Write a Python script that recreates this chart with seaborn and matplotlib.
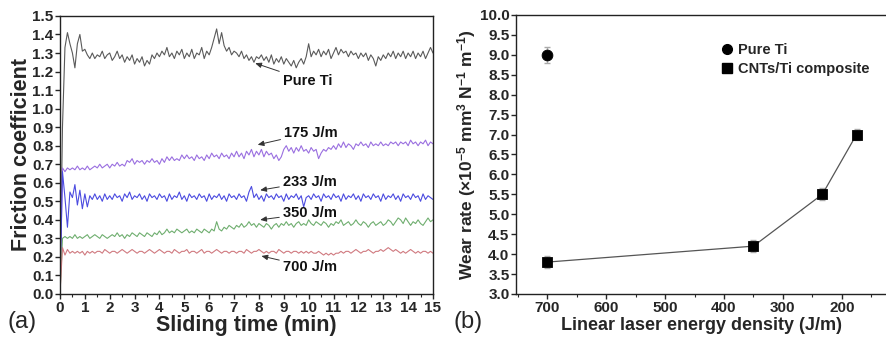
import numpy as np
import pandas as pd
import matplotlib
matplotlib.use("Agg")
import matplotlib.pyplot as plt
import seaborn as sns
from matplotlib.lines import Line2D
from matplotlib.ticker import MultipleLocator

# ---------------- data: panel (a) friction coefficient vs sliding time ----------------
time_min = np.round(np.arange(0, 15.001, 0.1), 1)

pure_ti = [
    0.00, 0.90, 1.33, 1.41, 1.35, 1.30, 1.22, 1.35, 1.40, 1.31,
    1.32, 1.29, 1.27, 1.30, 1.27, 1.29, 1.28, 1.31, 1.27, 1.29,
    1.30, 1.26, 1.28, 1.31, 1.27, 1.29, 1.25, 1.28, 1.26, 1.29,
    1.24, 1.27, 1.25, 1.28, 1.23, 1.26, 1.24, 1.29, 1.27, 1.30,
    1.28, 1.31, 1.29, 1.33, 1.28, 1.30, 1.27, 1.31, 1.29, 1.32,
    1.27, 1.30, 1.28, 1.32, 1.27, 1.30, 1.29, 1.33, 1.27, 1.31,
    1.29, 1.33, 1.38, 1.43, 1.35, 1.41, 1.34, 1.31, 1.33, 1.29,
    1.31, 1.30, 1.28, 1.31, 1.27, 1.29, 1.26, 1.28, 1.25, 1.28,
    1.27, 1.29, 1.26, 1.28, 1.25, 1.29, 1.24, 1.27, 1.25, 1.28,
    1.24, 1.27, 1.25, 1.23, 1.26, 1.22, 1.25, 1.27, 1.24, 1.28,
    1.35, 1.28, 1.31, 1.29, 1.32, 1.28, 1.31, 1.29, 1.32, 1.27,
    1.30, 1.33, 1.29, 1.32, 1.30, 1.31, 1.28, 1.31, 1.29, 1.30,
    1.27, 1.30, 1.28, 1.30, 1.26, 1.29, 1.27, 1.23, 1.28, 1.26,
    1.29, 1.27, 1.30, 1.28, 1.31, 1.27, 1.30, 1.28, 1.31, 1.27,
    1.30, 1.28, 1.31, 1.27, 1.30, 1.28, 1.31, 1.27, 1.30, 1.33,
    1.30,
]

e175 = [
    0.00, 0.68, 0.66, 0.68, 0.67, 0.68, 0.67, 0.69, 0.67, 0.68,
    0.67, 0.69, 0.67, 0.68, 0.69, 0.68, 0.70, 0.68, 0.69, 0.70,
    0.68, 0.70, 0.69, 0.71, 0.69, 0.70, 0.69, 0.72, 0.71, 0.73,
    0.70, 0.72, 0.71, 0.72, 0.70, 0.72, 0.71, 0.73, 0.71, 0.72,
    0.70, 0.73, 0.71, 0.74, 0.72, 0.74, 0.72, 0.73, 0.72, 0.75,
    0.73, 0.75, 0.73, 0.74, 0.72, 0.75, 0.73, 0.74, 0.72, 0.75,
    0.73, 0.76, 0.74, 0.75, 0.73, 0.76, 0.74, 0.75, 0.73, 0.76,
    0.74, 0.77, 0.74, 0.76, 0.73, 0.77, 0.75, 0.78, 0.74, 0.77,
    0.75, 0.78, 0.74, 0.77, 0.75, 0.76, 0.73, 0.75, 0.72, 0.74,
    0.78, 0.80, 0.77, 0.79, 0.76, 0.79, 0.77, 0.80, 0.77, 0.78,
    0.76, 0.79, 0.77, 0.78, 0.73, 0.76, 0.78, 0.77, 0.79, 0.78,
    0.80, 0.78, 0.81, 0.79, 0.82, 0.79, 0.81, 0.80, 0.78, 0.81,
    0.80, 0.82, 0.80, 0.81, 0.79, 0.82, 0.80, 0.81, 0.80, 0.82,
    0.80, 0.81, 0.80, 0.82, 0.81, 0.82, 0.80, 0.82, 0.81, 0.82,
    0.80, 0.83, 0.81, 0.82, 0.80, 0.82, 0.81, 0.83, 0.80, 0.82,
    0.81,
]

e233 = [
    0.00, 0.66, 0.52, 0.36, 0.55, 0.52, 0.59, 0.48, 0.56, 0.46,
    0.54, 0.47, 0.53, 0.51, 0.54, 0.51, 0.53, 0.50, 0.54, 0.51,
    0.53, 0.51, 0.54, 0.52, 0.53, 0.50, 0.54, 0.52, 0.55, 0.51,
    0.53, 0.52, 0.54, 0.51, 0.53, 0.50, 0.54, 0.52, 0.53, 0.51,
    0.54, 0.52, 0.53, 0.50, 0.54, 0.51, 0.53, 0.52, 0.55, 0.51,
    0.53, 0.50, 0.54, 0.52, 0.53, 0.51, 0.54, 0.52, 0.53, 0.50,
    0.54, 0.51, 0.53, 0.52, 0.54, 0.51, 0.53, 0.50, 0.54, 0.52,
    0.53, 0.51, 0.54, 0.52, 0.53, 0.50, 0.55, 0.58, 0.52, 0.54,
    0.51, 0.53, 0.50, 0.54, 0.52, 0.53, 0.51, 0.54, 0.52, 0.53,
    0.50, 0.54, 0.51, 0.53, 0.52, 0.54, 0.51, 0.53, 0.47, 0.52,
    0.53, 0.51, 0.54, 0.52, 0.53, 0.50, 0.54, 0.52, 0.53, 0.51,
    0.54, 0.52, 0.53, 0.50, 0.54, 0.51, 0.53, 0.52, 0.54, 0.51,
    0.53, 0.50, 0.54, 0.52, 0.53, 0.51, 0.54, 0.52, 0.53, 0.50,
    0.54, 0.51, 0.53, 0.52, 0.54, 0.51, 0.53, 0.50, 0.54, 0.52,
    0.53, 0.51, 0.54, 0.52, 0.53, 0.50, 0.54, 0.51, 0.53, 0.52,
    0.51,
]

e350 = [
    0.00, 0.30, 0.31, 0.30, 0.31, 0.30, 0.32, 0.30, 0.31, 0.30,
    0.31, 0.32, 0.30, 0.31, 0.32, 0.31, 0.30, 0.32, 0.31, 0.30,
    0.31, 0.32, 0.31, 0.33, 0.31, 0.32, 0.30, 0.32, 0.31, 0.33,
    0.32, 0.31, 0.33, 0.32, 0.31, 0.33, 0.32, 0.31, 0.33, 0.32,
    0.34, 0.32, 0.33, 0.35, 0.33, 0.34, 0.33, 0.35, 0.34, 0.33,
    0.34, 0.35, 0.33, 0.34, 0.33, 0.35, 0.34, 0.33, 0.35, 0.34,
    0.33, 0.35, 0.34, 0.39, 0.35, 0.34, 0.36, 0.35, 0.37, 0.36,
    0.35, 0.37, 0.36, 0.38, 0.36, 0.37, 0.39, 0.37, 0.38, 0.36,
    0.38, 0.37, 0.36, 0.38, 0.37, 0.35, 0.37, 0.38, 0.36, 0.38,
    0.37, 0.39, 0.37, 0.38, 0.36, 0.38, 0.39, 0.37, 0.38, 0.37,
    0.40, 0.38, 0.37, 0.39, 0.38, 0.37, 0.39, 0.38, 0.36, 0.38,
    0.37, 0.39, 0.38, 0.40, 0.37, 0.38, 0.39, 0.37, 0.38, 0.40,
    0.38, 0.37, 0.39, 0.38, 0.36, 0.38, 0.39, 0.37, 0.38, 0.39,
    0.37, 0.38, 0.40, 0.39, 0.37, 0.39, 0.41, 0.40, 0.38, 0.41,
    0.39, 0.37, 0.39, 0.38, 0.40, 0.38, 0.37, 0.39, 0.41, 0.39,
    0.40,
]

e700 = [
    0.00, 0.25, 0.21, 0.24, 0.22, 0.23, 0.22, 0.23, 0.22, 0.23,
    0.21, 0.23, 0.22, 0.23, 0.22, 0.23, 0.23, 0.22, 0.24, 0.23,
    0.22, 0.23, 0.23, 0.22, 0.23, 0.24, 0.23, 0.22, 0.23, 0.24,
    0.23, 0.22, 0.23, 0.23, 0.22, 0.23, 0.24, 0.23, 0.22, 0.23,
    0.24, 0.23, 0.22, 0.23, 0.23, 0.22, 0.24, 0.23, 0.22, 0.23,
    0.23, 0.24, 0.22, 0.23, 0.23, 0.22, 0.23, 0.24, 0.22, 0.23,
    0.23, 0.22, 0.23, 0.24, 0.23, 0.22, 0.23, 0.23, 0.22, 0.23,
    0.23, 0.22, 0.23, 0.23, 0.22, 0.24, 0.23, 0.22, 0.23, 0.23,
    0.24, 0.23, 0.22, 0.23, 0.22, 0.23, 0.23, 0.22, 0.24, 0.23,
    0.22, 0.23, 0.23, 0.22, 0.23, 0.23, 0.22, 0.23, 0.22, 0.23,
    0.22, 0.23, 0.22, 0.22, 0.23, 0.22, 0.21, 0.22, 0.21, 0.22,
    0.21, 0.22, 0.22, 0.23, 0.22, 0.23, 0.23, 0.22, 0.23, 0.24,
    0.23, 0.22, 0.23, 0.23, 0.24, 0.23, 0.22, 0.23, 0.23, 0.24,
    0.23, 0.24, 0.25, 0.24, 0.23, 0.24, 0.23, 0.22, 0.23, 0.22,
    0.23, 0.24, 0.23, 0.22, 0.23, 0.22, 0.23, 0.23, 0.22, 0.23,
    0.22,
]

series_names = ["Pure Ti", "175 J/m", "233 J/m", "350 J/m", "700 J/m"]
series_values = [pure_ti, e175, e233, e350, e700]
series_colors = ["#5a5a5a", "#9a6fe0", "#4b4be0", "#6fae6f", "#d07a80"]

# annotation text position (time, mu) and arrow tip (time, mu)
label_pos = [(8.95, 1.15), (9.0, 0.87), (8.95, 0.605), (8.95, 0.435), (8.95, 0.145)]
arrow_tip = [(7.85, 1.245), (7.95, 0.805), (8.05, 0.56), (8.05, 0.40), (8.1, 0.205)]

x_ticks_a = list(range(0, 16))
y_ticks_a = [round(0.1 * i, 1) for i in range(16)]

# ---------------- data: panel (b) wear rate ----------------
pure_energy = [700]
pure_wear = [9.0]
pure_err = [0.2]
comp_energy = [700, 350, 233, 175]
comp_wear = [3.8, 4.2, 5.5, 7.0]
comp_err = [0.15, 0.15, 0.15, 0.15]

x_ticks_b = [700, 600, 500, 400, 300, 200]
y_ticks_b = [round(3.0 + 0.5 * i, 1) for i in range(15)]

# ---------------- styling ----------------
sns.set_theme(style="ticks")
plt.rcParams["font.family"] = ["Liberation Sans", "DejaVu Sans"]
plt.rcParams["font.weight"] = "bold"
plt.rcParams["axes.labelweight"] = "bold"
plt.rcParams["mathtext.fontset"] = "custom"
plt.rcParams["mathtext.rm"] = "Liberation Sans:bold"
plt.rcParams["mathtext.it"] = "Liberation Sans:bold"
plt.rcParams["mathtext.bf"] = "Liberation Sans:bold"
plt.rcParams["mathtext.default"] = "rm"

fig = plt.figure(figsize=(8.86, 3.42), dpi=100)
ax1 = fig.add_axes([0.0677, 0.1404, 0.421, 0.813])
ax2 = fig.add_axes([0.5824, 0.1404, 0.4176, 0.816])

TICK_FS = 11

# ---------------- panel (a) ----------------
rows = []
for name, vals in zip(series_names, series_values):
    for t, v in zip(time_min, vals):
        rows.append((name, t, v))
df = pd.DataFrame(rows, columns=["series", "time", "mu"])
sns.lineplot(data=df, x="time", y="mu", hue="series", hue_order=series_names,
             palette=dict(zip(series_names, series_colors)), linewidth=0.8,
             legend=False, ax=ax1, estimator=None, sort=False)

for name, (tx, ty), (ax_, ay) in zip(series_names, label_pos, arrow_tip):
    ax1.annotate(name, xy=(ax_, ay), xytext=(tx, ty), fontsize=10.5, fontweight="bold",
                 va="center", ha="left", color="#111111",
                 arrowprops=dict(arrowstyle="-|>,head_length=0.35,head_width=0.15",
                                 color="#333333", lw=0.7, shrinkA=0, shrinkB=0))

ax1.set_xlim(0, 15)
ax1.set_ylim(0, 1.5)
ax1.set_xticks(x_ticks_a)
ax1.set_xticklabels([str(v) for v in x_ticks_a], fontweight="bold", fontsize=TICK_FS)
ax1.xaxis.set_minor_locator(MultipleLocator(0.5))
ax1.set_yticks(y_ticks_a)
ax1.set_yticklabels([f"{v:.1f}" for v in y_ticks_a], fontweight="bold", fontsize=TICK_FS)
for s in ax1.spines.values():
    s.set_visible(True)
    s.set_linewidth(1.0)
    s.set_color("#222222")
ax1.tick_params(axis="both", which="major", length=3.5, width=1.0, pad=1.2)
ax1.tick_params(axis="both", which="minor", length=2, width=0.8)
ax1.set_xlabel("Sliding time (min)", fontsize=15.5, fontweight="bold", labelpad=0.5)
ax1.set_ylabel("Friction coefficient", fontsize=15.5, fontweight="bold", labelpad=0)
fig.text(0.008, 0.058, "(a)", fontsize=17, fontweight="normal", ha="left", va="center")

# ---------------- panel (b) ----------------
ax2.errorbar(comp_energy, comp_wear, yerr=comp_err, fmt="none", ecolor="#aaaaaa",
             elinewidth=1.0, capsize=2.5, zorder=2)
ax2.errorbar(pure_energy, pure_wear, yerr=pure_err, fmt="none", ecolor="#aaaaaa",
             elinewidth=1.0, capsize=2.5, zorder=2)
sns.lineplot(x=comp_energy, y=comp_wear, color="#555555", linewidth=0.9,
             ax=ax2, sort=False, zorder=3)
sns.scatterplot(x=comp_energy, y=comp_wear, marker="s", s=55, color="black",
                edgecolor="black", ax=ax2, zorder=4)
sns.scatterplot(x=pure_energy, y=pure_wear, marker="o", s=60, color="black",
                edgecolor="black", ax=ax2, zorder=4)

ax2.set_xlim(753, 125)
ax2.set_ylim(3.0, 10.0)
ax2.set_xticks(x_ticks_b)
ax2.set_xticklabels([str(v) for v in x_ticks_b], fontweight="bold", fontsize=TICK_FS)
ax2.xaxis.set_minor_locator(MultipleLocator(50))
ax2.set_yticks(y_ticks_b)
ax2.set_yticklabels([f"{v:.1f}" for v in y_ticks_b], fontweight="bold", fontsize=TICK_FS)
for name, s in ax2.spines.items():
    s.set_linewidth(1.0)
    s.set_color("#222222")
    s.set_visible(name != "right")
ax2.tick_params(axis="both", which="major", length=3.5, width=1.0, pad=1.2)
ax2.tick_params(axis="both", which="minor", length=2, width=0.8)
ax2.tick_params(axis="x", which="both", top=False)
ax2.set_xlabel("Linear laser energy density (J/m)", fontsize=13, fontweight="bold", labelpad=2)
ax2.set_ylabel(r"Wear rate ($\times$10$^{-5}$ mm$^{3}$ N$^{-1}$ m$^{-1}$)",
               fontsize=12.5, fontweight="bold", labelpad=1)
fig.text(0.512, 0.058, "(b)", fontsize=17, fontweight="normal", ha="left", va="center")

handles = [Line2D([], [], marker="o", linestyle="none", color="black", markersize=7),
           Line2D([], [], marker="s", linestyle="none", color="black", markersize=7)]
leg = ax2.legend(handles, ["Pure Ti", "CNTs/Ti composite"], loc="upper left",
                 bbox_to_anchor=(0.53, 0.92), frameon=False, fontsize=10.5,
                 handletextpad=0.2, handlelength=1.2, labelspacing=0.35, borderaxespad=0)
for t in leg.get_texts():
    t.set_fontweight("bold")

fig.savefig("out.png", dpi=100)
